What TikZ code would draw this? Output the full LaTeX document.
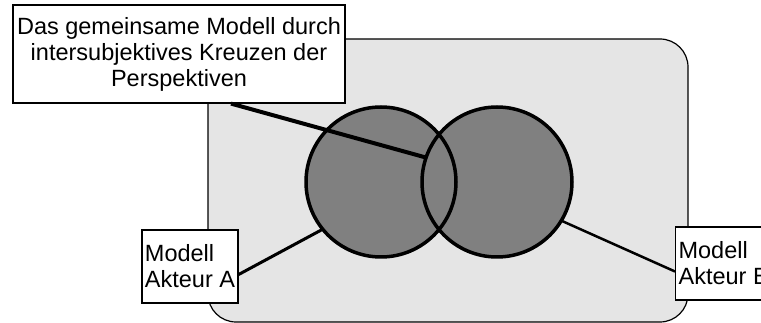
\documentclass[tikz,border=0pt]{standalone}
\usepackage{fontspec}
\setmainfont{Liberation Sans}
\usetikzlibrary{positioning,calc}
\definecolor{bggrey}{gray}{0.9}
\definecolor{modelgrey}{gray}{0.5}

\begin{document}
\begin{tikzpicture}[
    x=1pt, y=-1pt,
    labelbox/.style={draw, line width=1.2pt, fill=white, inner xsep=3pt,
        font=\fontsize{23.5}{26}\selectfont},
    model/.style={circle, minimum size=150pt, inner sep=0pt, fill=modelgrey},
    link/.style={line width=3pt}
]
\useasboundingbox (0,0) rectangle (761,323);

% Hintergrund
\draw[fill=bggrey, line width=1.2pt, rounded corners=28pt] (208,39) rectangle (688,322);

% Modelle der Akteure
\node[model] (modelA) at (381,182) {};
\node[model] (modelB) at (497,182) {};
\draw[line width=3.5pt] (modelA.center) circle[radius=75pt];
\draw[line width=3.5pt] (modelB.center) circle[radius=75pt];

% Beschriftungen
\node[labelbox, align=center, minimum width=332pt, minimum height=98pt] (gemeinsam) at (179,54)
    {Das gemeinsame Modell durch\\intersubjektives Kreuzen der\\Perspektiven};
\node[labelbox, align=left, minimum height=73pt] (akteurA) at (190,266.5) {Modell\\Akteur A};
\node[labelbox, align=left, minimum height=73pt, anchor=west] (akteurB) at (675,263.5) {Modell\\Akteur B};

\draw[link, line width=4pt] ([xshift=52pt]gemeinsam.south) -- (modelB.161);
\draw[link] ([yshift=-8pt]akteurA.east) -- (modelA.219);
\draw[link, line width=2.5pt] (modelB.329) -- ([yshift=-8pt]akteurB.west);

\end{tikzpicture}
\end{document}
